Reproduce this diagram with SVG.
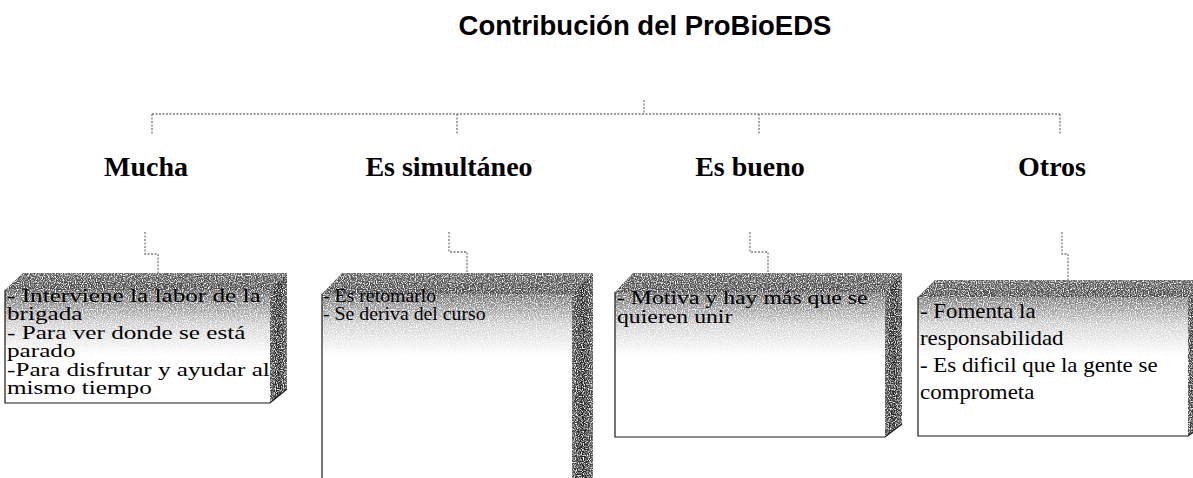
<svg xmlns="http://www.w3.org/2000/svg" width="1193" height="478" viewBox="0 0 1193 478">
<defs>
<linearGradient id="gTop" x1="0" y1="0" x2="0" y2="1"><stop offset="0" stop-color="#5a5a5a"/><stop offset="1" stop-color="#444"/></linearGradient>
<linearGradient id="gRight" x1="0" y1="0" x2="1" y2="0"><stop offset="0" stop-color="#4a4a4a"/><stop offset="0.5" stop-color="#1e1e1e"/><stop offset="1" stop-color="#4a4a4a"/></linearGradient>
<linearGradient id="gFront" gradientUnits="userSpaceOnUse" x1="0" y1="288" x2="0" y2="355"><stop offset="0" stop-color="#555"/><stop offset="0.55" stop-color="#cfcfcf"/><stop offset="1" stop-color="#ffffff"/></linearGradient>
<filter id="grain" x="0" y="0" width="1" height="1" color-interpolation-filters="sRGB">
<feTurbulence type="fractalNoise" baseFrequency="0.85" numOctaves="1" seed="4" result="n"/>
<feColorMatrix in="n" type="matrix" values="0 0 0 0 1  0 0 0 0 1  0 0 0 0 1  3.5 0 0 0 -1.5" result="dots"/>
<feComposite in="dots" in2="SourceGraphic" operator="in" result="specks"/>
<feMerge><feMergeNode in="SourceGraphic"/><feMergeNode in="specks"/></feMerge>
</filter>
<style>
.title{font-family:"Liberation Sans",Arial,sans-serif;font-weight:bold;font-size:27.5px;fill:#000;text-anchor:middle}
.cat{font-family:"Liberation Serif","Times New Roman",serif;font-weight:bold;font-size:28px;fill:#000;text-anchor:middle}
.bt{font-family:"Liberation Serif","Times New Roman",serif;font-size:18px;fill:#000}
.bt4{font-family:"Liberation Serif","Times New Roman",serif;font-size:22px;fill:#000}
.front{fill:url(#gFront);filter:url(#grain)}
.edge{fill:none;stroke:#1a1a1a;stroke-width:1.2}
.top{fill:url(#gTop);filter:url(#grain)}
.right{fill:url(#gRight);filter:url(#grain)}
.conn{fill:none;stroke:#7a7a7a;stroke-width:1.3;stroke-dasharray:2 1.5}
</style>
</defs>
<rect width="1193" height="478" fill="#fff"/>

<g id="connectors">
<path class="conn" d="M644,100 V114"/>
<path class="conn" d="M152,114 H1060"/>
<path class="conn" d="M152,114 V134"/>
<path class="conn" d="M457,114 V134"/>
<path class="conn" d="M759,114 V134"/>
<path class="conn" d="M1060,114 V134"/>
<path class="conn" d="M145,232 V254 H158 V273"/>
<path class="conn" d="M449,232 V252 H467 V273"/>
<path class="conn" d="M750,232 V252 H768 V273"/>
<path class="conn" d="M1062,232 V254 H1068 V280"/>
</g>

<g id="title">
<text class="title" x="645" y="35">Contribución del ProBioEDS</text>
</g>

<g id="cat-mucha"><text class="cat" x="146" y="176">Mucha</text></g>
<g id="cat-simultaneo"><text class="cat" x="449" y="176">Es simultáneo</text></g>
<g id="cat-bueno"><text class="cat" x="750" y="176">Es bueno</text></g>
<g id="cat-otros"><text class="cat" x="1052" y="176">Otros</text></g>

<g id="box-mucha">
<polygon class="front" points="5,290 270,290 270,403 5,403"/>
<polygon class="top" points="5,290 23,273 287,273 270,290"/>
<polygon class="right" points="270,290 287,273 287,389 270,403"/>
<path class="edge" d="M5,290 V403 H270 L287,389"/>
<g transform="translate(7,0) scale(1.4,1)">
<text class="bt" x="0" y="302">- Interviene la labor de la</text>
<text class="bt" x="0" y="320.5">brigada</text>
<text class="bt" x="0" y="339">- Para ver donde se está</text>
<text class="bt" x="0" y="357.5">parado</text>
<text class="bt" x="0" y="376">-Para disfrutar y ayudar al</text>
<text class="bt" x="0" y="394.5">mismo tiempo</text>
</g>
</g>

<g id="box-simultaneo">
<polygon class="front" points="322,294 572,294 572,500 322,500"/>
<polygon class="top" points="322,294 342,273 593,273 572,294"/>
<polygon class="right" points="572,294 593,273 593,478 572,500"/>
<path class="edge" d="M322,294 V478"/>
<g transform="translate(323,0) scale(1.1,1)">
<text class="bt" x="0" y="302">- Es retomarlo</text>
<text class="bt" x="0" y="320">- Se deriva del curso</text>
</g>
</g>

<g id="box-bueno">
<polygon class="front" points="615,292 885,292 885,437 615,437"/>
<polygon class="top" points="615,292 633,273 902,273 885,292"/>
<polygon class="right" points="885,292 902,273 902,424 885,437"/>
<path class="edge" d="M615,292 V437 H885 L902,424"/>
<g transform="translate(617,0) scale(1.32,1)">
<text class="bt" x="0" y="304">- Motiva y hay más que se</text>
<text class="bt" x="0" y="323">quieren unir</text>
</g>
</g>

<g id="box-otros">
<polygon class="front" points="918,297 1188,297 1188,436 918,436"/>
<polygon class="top" points="918,297 935,280 1205,280 1188,297"/>
<polygon class="right" points="1188,297 1205,280 1205,424 1188,436"/>
<path class="edge" d="M918,297 V436 H1188 L1205,424"/>
<g transform="translate(920,0) scale(1.04,1)">
<text class="bt4" x="0" y="318">- Fomenta la</text>
<text class="bt4" x="0" y="345">responsabilidad</text>
<text class="bt4" x="0" y="372">- Es dificil que la gente se</text>
<text class="bt4" x="0" y="399">comprometa</text>
</g>
</g>
</svg>
